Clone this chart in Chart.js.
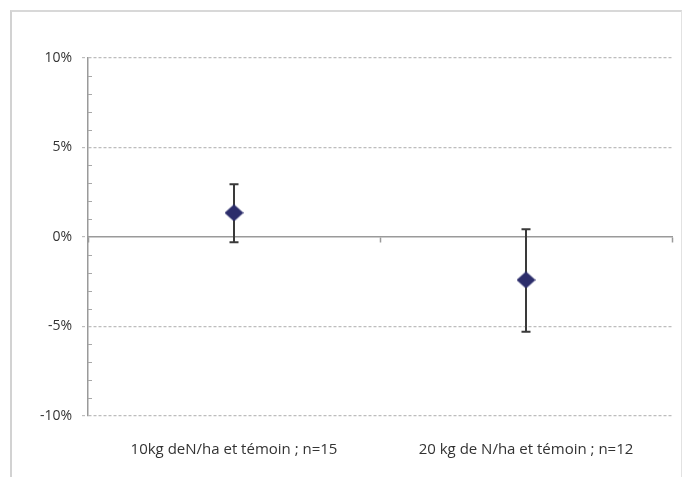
<!DOCTYPE html>
<html>
<head>
<meta charset="utf-8">
<script src="https://cdn.jsdelivr.net/npm/chart.js@4/dist/chart.umd.min.js"></script>
<style>
  html, body { margin: 0; padding: 0; background: #fff; }
  #wrap { position: relative; width: 686px; height: 477px; overflow: hidden; }
  #frame {
    position: absolute; left: 10px; top: 10px; width: 672px; height: 480px;
    border-left: 2px solid #d2d2d2; border-top: 2px solid #d8d8d8; border-right: 1px solid #e2e2e2;
    box-sizing: border-box;
  }
  canvas { position: absolute; left: 0; top: 0; }
</style>
</head>
<body>
<div id="wrap">
  <div id="frame"></div>
  <canvas id="c" width="686" height="477"></canvas>
</div>
<script>
// Treatments compared with the control plot
const categories = ['10kg deN/ha et témoin ; n=15', '20 kg de N/ha et témoin ; n=12'];
// Mean relative difference (%) and its confidence interval bounds (%)
const means = [1.35, -2.4];
const upper = [2.95, 0.43];
const lower = [-0.3, -5.3];
// Y axis range and labelled tick step (%)
const yMin = -10;
const yMax = 10;
const majorStep = 5;

const axisGrey = '#9a9a9a';
const textColor = '#333333';
const markerColor = '#2c2d6b';

// Slightly wide diamond marker
function diamondMarker(w, h, color) {
  const cv = document.createElement('canvas');
  cv.width = w; cv.height = h;
  const g = cv.getContext('2d');
  g.fillStyle = color;
  g.beginPath();
  g.moveTo(w / 2, 0); g.lineTo(w, h / 2); g.lineTo(w / 2, h); g.lineTo(0, h / 2);
  g.closePath();
  g.fill();
  return cv;
}
const marker = diamondMarker(19, 17, markerColor);

// Vertical confidence bars with end caps, drawn under the markers
const errorBars = {
  id: 'errorBars',
  beforeDatasetsDraw(chart) {
    const { ctx, scales: { x, y } } = chart;
    ctx.save();
    ctx.strokeStyle = '#3a3a3a';
    ctx.lineWidth = 2;
    for (let i = 0; i < means.length; i++) {
      const px = x.getPixelForValue(i);
      const yt = y.getPixelForValue(upper[i]);
      const yb = y.getPixelForValue(lower[i]);
      ctx.beginPath();
      ctx.moveTo(px, yt); ctx.lineTo(px, yb);
      ctx.moveTo(px - 4.5, yt); ctx.lineTo(px + 4.5, yt);
      ctx.moveTo(px - 4.5, yb); ctx.lineTo(px + 4.5, yb);
      ctx.stroke();
    }
    ctx.restore();
  }
};

// Small inward minor tick marks on the value axis
const minorTicks = {
  id: 'minorTicks',
  afterDraw(chart) {
    const { ctx, scales: { y } } = chart;
    ctx.save();
    ctx.strokeStyle = '#a8a8a8';
    ctx.lineWidth = 1;
    const left = chart.chartArea.left;
    y.ticks.forEach(t => {
      if (t.value % majorStep !== 0) {
        const py = Math.round(y.getPixelForValue(t.value)) + 0.5;
        ctx.beginPath();
        ctx.moveTo(left, py); ctx.lineTo(left + 4, py);
        ctx.stroke();
      }
    });
    ctx.restore();
  }
};

const isMajor = v => v % majorStep === 0;

new Chart(document.getElementById('c'), {
  type: 'line',
  data: {
    labels: categories,
    datasets: [{
      data: means,
      showLine: false,
      pointStyle: marker,
      pointRadius: 9,
      pointHoverRadius: 9,
      pointBackgroundColor: markerColor,
      pointBorderColor: markerColor
    }]
  },
  options: {
    responsive: false,
    animation: false,
    events: [],
    layout: { padding: { left: 0, top: 58, right: 14, bottom: 0 } },
    plugins: { legend: { display: false }, tooltip: { enabled: false } },
    scales: {
      x: {
        type: 'category',
        position: 'bottom',
        offset: true,
        grid: { display: false },
        border: { display: false },
        ticks: {
          color: textColor,
          font: { family: 'Open Sans', size: 15 },
          padding: 17,
          maxRotation: 0,
          autoSkip: false
        },
        afterFit(scale) { scale.height = 61; }
      },
      xZero: {
        type: 'category',
        labels: categories,
        position: { y: 0 },
        offset: true,
        ticks: { display: false },
        grid: {
          offset: true,
          drawOnChartArea: false,
          drawTicks: true,
          tickLength: 5,
          tickColor: axisGrey,
          tickWidth: 1.5
        },
        border: { display: true, color: axisGrey, width: 1.5 }
      },
      y: {
        type: 'linear',
        min: yMin,
        max: yMax,
        ticks: {
          stepSize: 1,
          autoSkip: false,
          padding: 10,
          color: textColor,
          font: { family: 'Open Sans', size: 14 },
          callback: v => (isMajor(v) ? v + '%' : '')
        },
        grid: {
          color: ctx => (ctx.tick && isMajor(ctx.tick.value) && ctx.tick.value !== 0 ? '#bdbdbd' : 'rgba(0,0,0,0)'),
          tickColor: ctx => (ctx.tick && isMajor(ctx.tick.value) ? '#bdbdbd' : 'rgba(0,0,0,0)'),
          tickLength: 6,
          lineWidth: 1.2,
          tickBorderDash: [3, 2]
        },
        border: {
          display: true,
          color: axisGrey,
          width: 1.5,
          dash: ctx => (ctx.type === 'tick' ? [3, 2] : [])
        },
        afterFit(scale) { scale.width = 88; }
      }
    }
  },
  plugins: [errorBars, minorTicks]
});
</script>
</body>
</html>
